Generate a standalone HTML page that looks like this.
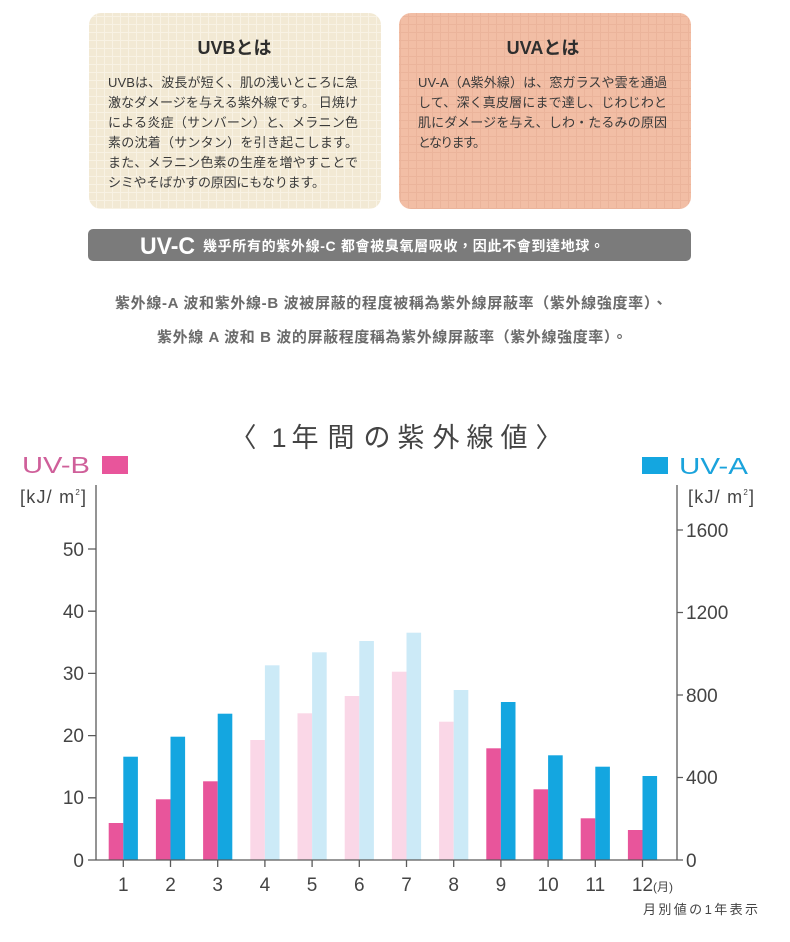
<!DOCTYPE html>
<html>
<head>
<meta charset="utf-8">
<style>
  html,body{margin:0;padding:0;background:#ffffff;}
  svg{display:block;}
  .jp{font-family:"Liberation Sans","Noto Sans CJK JP",sans-serif;}
  .tc{font-family:"Liberation Sans","Noto Sans CJK TC",sans-serif;}
  .num{font-family:"Liberation Sans",sans-serif;fill:#444;font-size:19px;}
</style>
</head>
<body>
<svg width="790" height="942" viewBox="0 0 790 942" xmlns="http://www.w3.org/2000/svg">
  <defs>
    <pattern id="gridB" width="8" height="8" patternUnits="userSpaceOnUse">
      <rect width="8" height="8" fill="#f2e9d4"/>
      <path d="M0 0.5H8M0.5 0V8" stroke="#f8f2e4" stroke-width="1"/>
    </pattern>
    <pattern id="gridA" width="8" height="8" patternUnits="userSpaceOnUse">
      <rect width="8" height="8" fill="#f2bea5"/>
      <path d="M0 0.5H8M0.5 0V8" stroke="#ebb49b" stroke-width="1"/>
    </pattern>
  </defs>

  <!-- UVB card -->
  <rect x="89" y="13" width="292" height="196" rx="12" fill="url(#gridB)"/>
  <text class="jp" x="234.5" y="54" font-size="18" font-weight="bold" fill="#2e2e2e" text-anchor="middle">UVBとは</text>
  <g class="jp" font-size="13" fill="#3a3a3a">
    <text x="108" y="87" textLength="250" lengthAdjust="spacing">UVBは、波長が短く、肌の浅いところに急</text>
    <text x="108" y="107" textLength="250" lengthAdjust="spacing">激なダメージを与える紫外線です。 日焼け</text>
    <text x="108" y="127" textLength="250" lengthAdjust="spacing">による炎症（サンバーン）と、メラニン色</text>
    <text x="108" y="147" textLength="250" lengthAdjust="spacing">素の沈着（サンタン）を引き起こします。</text>
    <text x="108" y="167" textLength="250" lengthAdjust="spacing">また、メラニン色素の生産を増やすことで</text>
    <text x="108" y="187" textLength="217" lengthAdjust="spacing">シミやそばかすの原因にもなります。</text>
  </g>

  <!-- UVA card -->
  <rect x="399" y="13" width="292" height="196" rx="12" fill="url(#gridA)"/>
  <text class="jp" x="543" y="54" font-size="18" font-weight="bold" fill="#2e2e2e" text-anchor="middle">UVAとは</text>
  <g class="jp" font-size="13" fill="#3a3a3a">
    <text x="418" y="87" textLength="249" lengthAdjust="spacing">UV-A（A紫外線）は、窓ガラスや雲を通過</text>
    <text x="418" y="107" textLength="249" lengthAdjust="spacing">して、深く真皮層にまで達し、じわじわと</text>
    <text x="418" y="127" textLength="249" lengthAdjust="spacing">肌にダメージを与え、しわ・たるみの原因</text>
    <text x="418" y="147" textLength="68" lengthAdjust="spacing">となります。</text>
  </g>

  <!-- UV-C bar -->
  <rect x="88" y="229" width="603" height="32" rx="5" fill="#7b7b7b"/>
  <text x="140" y="254" font-family="Liberation Sans, sans-serif" font-size="24" font-weight="bold" fill="#ffffff" textLength="55" lengthAdjust="spacingAndGlyphs">UV-C</text>
  <text class="tc" x="203" y="251" font-size="14" font-weight="bold" fill="#ffffff" textLength="401" lengthAdjust="spacing">幾乎所有的紫外線-C 都會被臭氧層吸收，因此不會到達地球。</text>

  <!-- middle text -->
  <text class="tc" x="115" y="308" font-size="15" font-weight="bold" fill="#6b6b6b" textLength="552" lengthAdjust="spacing">紫外線-A 波和紫外線-B 波被屏蔽的程度被稱為紫外線屏蔽率（紫外線強度率）、</text>
  <text class="tc" x="157" y="342" font-size="15" font-weight="bold" fill="#6b6b6b" textLength="470" lengthAdjust="spacing">紫外線 A 波和 B 波的屏蔽程度稱為紫外線屏蔽率（紫外線強度率）。</text>

  <!-- chart title -->
  <g class="jp" font-size="27" fill="#444" text-anchor="middle">
    <text x="243" y="447">〈</text>
    <text x="279" y="447" font-family="Liberation Sans, sans-serif">1</text>
    <text x="305" y="447">年</text>
    <text x="341" y="447">間</text>
    <text x="377" y="447">の</text>
    <text x="411" y="447">紫</text>
    <text x="446" y="447">外</text>
    <text x="480" y="447">線</text>
    <text x="514" y="447">値</text>
    <text x="549" y="447">〉</text>
  </g>

  <!-- legends -->
  <text x="22" y="473" font-family="Liberation Sans, sans-serif" font-size="23" fill="#cf5f9a" textLength="68" lengthAdjust="spacingAndGlyphs">UV-B</text>
  <rect x="102" y="456" width="26" height="18" fill="#e8559b"/>
  <rect x="642" y="457" width="26" height="17" fill="#14a6e0"/>
  <text x="679" y="474" font-family="Liberation Sans, sans-serif" font-size="23" fill="#1aa3dc" textLength="69" lengthAdjust="spacingAndGlyphs">UV-A</text>

  <text x="20" y="503" font-family="Liberation Sans, sans-serif" font-size="18" fill="#444" textLength="66" lengthAdjust="spacing">[kJ/ m<tspan font-size="8" dy="-8">2</tspan><tspan dy="8">]</tspan></text>
  <text x="688" y="503" font-family="Liberation Sans, sans-serif" font-size="18" fill="#444" textLength="66" lengthAdjust="spacing">[kJ/ m<tspan font-size="8" dy="-8">2</tspan><tspan dy="8">]</tspan></text>

  <!-- bars -->
  <g>
    <rect x="108.7" y="823" width="14.6" height="37" fill="#e8559b"/>
    <rect x="123.3" y="756.7" width="14.6" height="103.3" fill="#14a6e0"/>
    <rect x="155.9" y="799.3" width="14.6" height="60.7" fill="#e8559b"/>
    <rect x="170.5" y="736.7" width="14.6" height="123.3" fill="#14a6e0"/>
    <rect x="203.1" y="781.3" width="14.6" height="78.7" fill="#e8559b"/>
    <rect x="217.7" y="713.7" width="14.6" height="146.3" fill="#14a6e0"/>
    <rect x="250.3" y="740" width="14.6" height="120" fill="#fad7e7"/>
    <rect x="264.9" y="665.3" width="14.6" height="194.7" fill="#cceaf7"/>
    <rect x="297.5" y="713.3" width="14.6" height="146.7" fill="#fad7e7"/>
    <rect x="312.1" y="652.3" width="14.6" height="207.7" fill="#cceaf7"/>
    <rect x="344.7" y="696" width="14.6" height="164" fill="#fad7e7"/>
    <rect x="359.3" y="641" width="14.6" height="219" fill="#cceaf7"/>
    <rect x="391.9" y="671.7" width="14.6" height="188.3" fill="#fad7e7"/>
    <rect x="406.5" y="632.7" width="14.6" height="227.3" fill="#cceaf7"/>
    <rect x="439.1" y="721.7" width="14.6" height="138.3" fill="#fad7e7"/>
    <rect x="453.7" y="690" width="14.6" height="170" fill="#cceaf7"/>
    <rect x="486.3" y="748.3" width="14.6" height="111.7" fill="#e8559b"/>
    <rect x="500.9" y="702" width="14.6" height="158" fill="#14a6e0"/>
    <rect x="533.5" y="789.3" width="14.6" height="70.7" fill="#e8559b"/>
    <rect x="548.1" y="755.3" width="14.6" height="104.7" fill="#14a6e0"/>
    <rect x="580.7" y="818.3" width="14.6" height="41.7" fill="#e8559b"/>
    <rect x="595.3" y="766.7" width="14.6" height="93.3" fill="#14a6e0"/>
    <rect x="627.9" y="830" width="14.6" height="30" fill="#e8559b"/>
    <rect x="642.5" y="776" width="14.6" height="84" fill="#14a6e0"/>
  </g>

  <!-- axes -->
  <g stroke="#5a5a5a" stroke-width="1.3" fill="none">
    <path d="M96 485V860"/>
    <path d="M677 485V860"/>
    <path d="M88 860H677"/>
    <path d="M88 549H96M88 611.2H96M88 673.4H96M88 735.6H96M88 797.8H96"/>
    <path d="M677 530H683M677 612.5H683M677 695H683M677 777.5H683M677 860H683"/>
    <path d="M123.3 860V867M170.5 860V867M217.7 860V867M264.9 860V867M312.1 860V867M359.3 860V867M406.5 860V867M453.7 860V867M500.9 860V867M548.1 860V867M595.3 860V867M642.5 860V867"/>
  </g>

  <!-- left labels -->
  <g class="num" text-anchor="end">
    <text x="84" y="556">50</text>
    <text x="84" y="618">40</text>
    <text x="84" y="680">30</text>
    <text x="84" y="742">20</text>
    <text x="84" y="804">10</text>
    <text x="84" y="867">0</text>
  </g>
  <!-- right labels -->
  <g class="num" font-size="19.5">
    <text x="686" y="537">1600</text>
    <text x="686" y="619">1200</text>
    <text x="686" y="702">800</text>
    <text x="686" y="784">400</text>
    <text x="686" y="867">0</text>
  </g>
  <!-- month labels -->
  <g class="num" text-anchor="middle">
    <text x="123.3" y="891">1</text>
    <text x="170.5" y="891">2</text>
    <text x="217.7" y="891">3</text>
    <text x="264.9" y="891">4</text>
    <text x="312.1" y="891">5</text>
    <text x="359.3" y="891">6</text>
    <text x="406.5" y="891">7</text>
    <text x="453.7" y="891">8</text>
    <text x="500.9" y="891">9</text>
    <text x="548.1" y="891">10</text>
    <text x="595.3" y="891">11</text>
    <text x="642.5" y="891">12</text>
  </g>
  <text class="jp" x="653" y="891" font-size="12" fill="#444">(月)</text>
  <text class="jp" x="643" y="914" font-size="13" fill="#444" textLength="115" lengthAdjust="spacing">月別値の1年表示</text>
</svg>
</body>
</html>
